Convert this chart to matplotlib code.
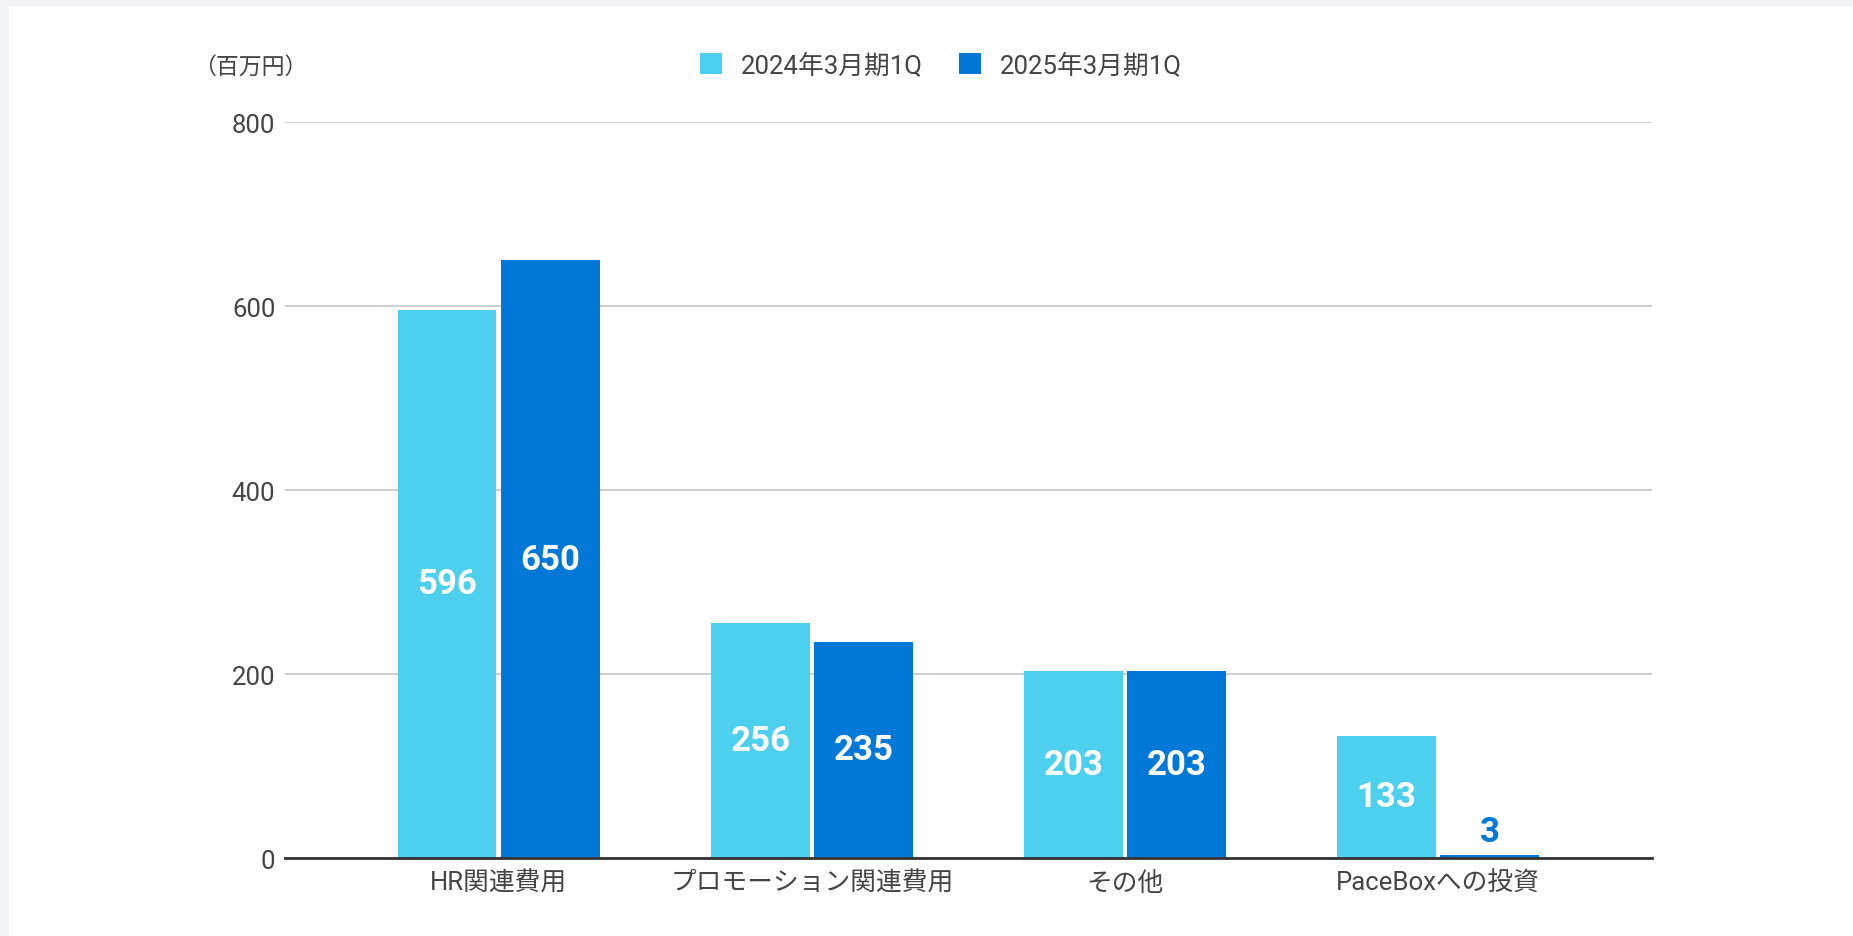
import matplotlib
matplotlib.use("Agg")
import numpy as np
import matplotlib.pyplot as plt
from matplotlib.patches import Rectangle

plt.rcParams["font.family"] = ["Roboto", "Noto Sans CJK JP", "DejaVu Sans"]

categories = ["HR関連費用", "プロモーション関連費用", "その他", "PaceBoxへの投資"]
series_names = ["2024年3月期1Q", "2025年3月期1Q"]
values_2024 = [596, 256, 203, 133]
values_2025 = [650, 235, 203, 3]
yticks = [0, 200, 400, 600, 800]

LIGHT = "#4DD0EE"
DARK = "#0078D7"
TEXT = "#444444"

fig = plt.figure(figsize=(18.53, 9.37), dpi=100)
fig.patch.set_facecolor("#F1F2F6")
fig.patches.append(Rectangle((9 / 1853, 0), 1, 1 - 7 / 937, transform=fig.transFigure,
                             facecolor="white", edgecolor="none", zorder=-10))

ax = fig.add_axes([0.1538, 0.0832, 0.8915 - 0.1538, 0.8687 - 0.0832])
ax.set_zorder(2)
ax.set_facecolor("none")

x = np.arange(len(categories))
w = 0.315
off = 0.165
b1 = ax.bar(x - off, values_2024, w, color=LIGHT, zorder=3, label=series_names[0])
b2 = ax.bar(x + off, values_2025, w, color=DARK, zorder=3, label=series_names[1])

# value labels: white inside the bar, blue above it when the bar is too short
for bars, vals in ((b1, values_2024), (b2, values_2025)):
    for r, v in zip(bars, vals):
        cx = r.get_x() + r.get_width() / 2
        if v > 50:
            ax.text(cx, v / 2, str(v), ha="center", va="center", color="white",
                    fontsize=25, fontweight="bold", zorder=4)
        else:
            ax.text(cx, v + 8, str(v), ha="center", va="bottom", color=DARK,
                    fontsize=25, fontweight="bold", zorder=4)

ax.set_xlim(-0.683, 3.683)
ax.set_ylim(0, 800)
ax.set_yticks(yticks)
ax.set_xticks(x)
ax.set_xticklabels(categories)
ax.tick_params(axis="both", length=0, labelsize=18.5, colors=TEXT)
ax.tick_params(axis="x", pad=9)
ax.tick_params(axis="y", pad=7)
ax.grid(axis="y", color="#CCCCCC", linewidth=1.3, zorder=0)
for s in ("top", "right", "left"):
    ax.spines[s].set_visible(False)
ax.spines["bottom"].set_color("#333333")
ax.spines["bottom"].set_linewidth(2)
ax.spines["bottom"].set_zorder(5)

fig.text(250 / 1853, 1 - 67 / 937, "（百万円）", ha="center", va="center",
         fontsize=16.5, color=TEXT)

leg = fig.legend(handles=[b1, b2], labels=series_names, loc="center",
                 bbox_to_anchor=(941 / 1853, 1 - 66 / 937), ncol=2, frameon=False,
                 fontsize=18.5, handlelength=0.85, handleheight=0.85,
                 handletextpad=0.75, columnspacing=1.4)
for t in leg.get_texts():
    t.set_color(TEXT)

fig.savefig("out.png", dpi=100, facecolor=fig.get_facecolor())
